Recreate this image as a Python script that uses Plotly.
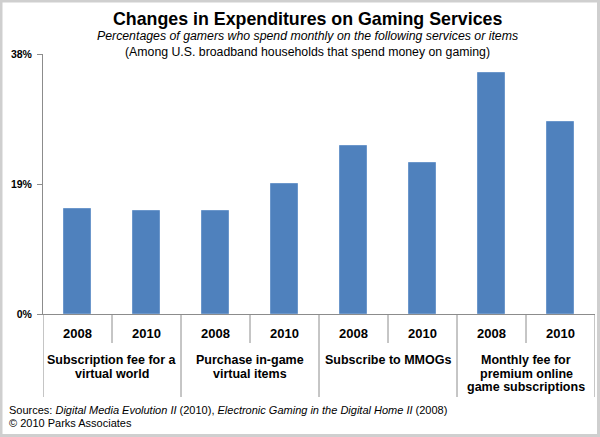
import plotly.graph_objects as go

# ---- data ----
groups = [
    "Subscription fee for a<br>virtual world",
    "Purchase in-game<br>virtual items",
    "Subscribe to MMOGs",
    "Monthly fee for<br>premium online<br>game subscriptions",
]
years = ["2008", "2010", "2008", "2010", "2008", "2010", "2008", "2010"]
values = [15.3, 15.0, 15.1, 19.0, 24.6, 22.0, 35.2, 28.0]
y_ticks = [0, 19, 38]
y_tick_labels = ["0%", "19%", "38%"]

title = "Changes in Expenditures on Gaming Services"
subtitle1 = "Percentages of gamers who spend monthly on the following services or items"
subtitle2 = "(Among U.S. broadband households that spend money on gaming)"
source1 = ("Sources: <i>Digital Media Evolution II</i> (2010), "
           "<i>Electronic Gaming in the Digital Home II</i> (2008)")
source2 = "© 2010 Parks Associates"

# ---- layout geometry ----
W, H = 600, 437
L, R, T, B = 43, 5, 54, 123
PW, PH = W - L - R, H - T - B
FONT = "Liberation Sans, Arial, sans-serif"
GRAY = "#8C8C8C"


def py(p):  # pixel y -> paper y
    return (H - B - p) / PH


def px(p):  # pixel x -> paper x
    return (p - L) / PW


xs = list(range(len(values)))

fig = go.Figure(
    go.Bar(
        x=xs,
        y=values,
        width=0.39,
        marker=dict(color="#4F81BD", line=dict(color="#6C97CB", width=1)),
        hoverinfo="skip",
    )
)

annotations = []
# year labels
for x, yr in zip(xs, years):
    annotations.append(dict(
        x=x, xref="x", y=py(333), yref="paper", text=yr, showarrow=False,
        xanchor="center", yanchor="middle",
        font=dict(family=FONT, size=13, color="#000", weight="bold"),
    ))
# group labels (each line placed separately)
line_y = [360, 373.5, 387]
for gi, g in enumerate(groups):
    for li, line in enumerate(g.split("<br>")):
        annotations.append(dict(
            x=2 * gi + 0.5, xref="x", y=py(line_y[li]), yref="paper",
            text=line, showarrow=False, xanchor="center", yanchor="middle",
            font=dict(family=FONT, size=12.5, color="#000", weight="bold"),
        ))
# titles
annotations += [
    dict(x=px(307), xref="paper", y=py(18.5), yref="paper", text=title,
         showarrow=False, xanchor="center", yanchor="middle",
         font=dict(family=FONT, size=17.8, color="#000", weight="bold")),
    dict(x=px(307), xref="paper", y=py(35.5), yref="paper", text=subtitle1,
         showarrow=False, xanchor="center", yanchor="middle",
         font=dict(family=FONT, size=12.3, color="#000", style="italic")),
    dict(x=px(307), xref="paper", y=py(51.5), yref="paper", text=subtitle2,
         showarrow=False, xanchor="center", yanchor="middle",
         font=dict(family=FONT, size=12.3, color="#000")),
    dict(x=px(7), xref="paper", y=py(410), yref="paper", text=source1,
         showarrow=False, xanchor="left", yanchor="middle",
         font=dict(family=FONT, size=11, color="#000")),
    dict(x=px(7), xref="paper", y=py(423), yref="paper", text=source2,
         showarrow=False, xanchor="left", yanchor="middle",
         font=dict(family=FONT, size=11, color="#000")),
]

shapes = []
# group dividers
for gx in range(0, len(values) + 1, 2):
    shapes.append(dict(type="line", xref="x", yref="paper", x0=gx - 0.5, x1=gx - 0.5,
                       y0=0, y1=py(397), line=dict(color=GRAY, width=1)))
# year dividers
for yx in range(1, len(values), 2):
    shapes.append(dict(type="line", xref="x", yref="paper", x0=yx - 0.5, x1=yx - 0.5,
                       y0=0, y1=py(343), line=dict(color=GRAY, width=1)))
# outer frame
shapes.append(dict(type="rect", xref="paper", yref="paper",
                   x0=px(1), x1=px(598.5), y0=py(1), y1=py(435.5),
                   line=dict(color="#CFCFCF", width=3), layer="below"))

fig.update_layout(
    width=W, height=H,
    margin=dict(l=L, r=R, t=T, b=B, pad=0),
    paper_bgcolor="white", plot_bgcolor="white",
    showlegend=False,
    bargap=0,
    annotations=annotations,
    shapes=shapes,
    xaxis=dict(range=[-0.5, len(values) - 0.5], showticklabels=False, ticks="",
               showgrid=False, zeroline=False, showline=True, linecolor=GRAY,
               linewidth=1, fixedrange=True),
    yaxis=dict(range=[0, 38], tickmode="array", tickvals=y_ticks,
               ticktext=y_tick_labels, ticks="outside", ticklabelstandoff=3,
               ticklen=5, tickcolor=GRAY, showgrid=False, zeroline=False,
               showline=True, linecolor=GRAY, linewidth=1, fixedrange=True,
               tickfont=dict(family=FONT, size=10.5, color="#000", weight="bold")),
)

fig.write_html("out.html", config={"displayModeBar": False})
